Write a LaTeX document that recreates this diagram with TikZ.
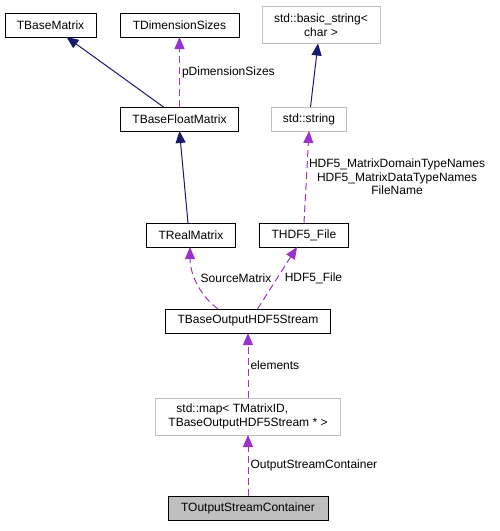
\documentclass[tikz,border=0pt]{standalone}
\usepackage{fontspec}
\setmainfont{Liberation Sans}
\usepackage{tikz}
\usetikzlibrary{arrows.meta,positioning,calc}
\definecolor{cNavy}{HTML}{191970}
\definecolor{cOrchid}{HTML}{9A32CD}
\definecolor{cGrey}{HTML}{BFBFBF}
\tikzset{
  >={Triangle[length=12pt,width=10pt]},
  cls/.style   ={draw=black,fill=white,line width=1pt,inner sep=0pt,outer sep=0pt,
                 minimum height=24pt,font=\fontsize{12}{13.5}\selectfont},
  ext/.style   ={cls,draw=cGrey},
  cur/.style   ={cls,fill=cGrey},
  inh/.style   ={->,cNavy,line width=1pt},
  usage/.style ={->,cOrchid,line width=1pt,dash pattern=on 7pt off 4pt},
  lbl/.style   ={font=\fontsize{12}{13.5}\selectfont,inner sep=2pt,text=black},
}
\begin{document}
\begin{tikzpicture}
\useasboundingbox (0,0) rectangle (500pt,-531pt);
\node[cls,minimum width=91pt] (bm) at (50.5pt,-25pt) {TBaseMatrix};
\node[cls,minimum width=119pt,right=24pt of bm] (dim) {TDimensionSizes};
\node[ext,minimum width=118pt,minimum height=37pt,align=center,right=23pt of dim] (bstr) {std::basic\_string<\\char >};
\node[cls,minimum width=118pt,below=70pt of dim] (bfm) {TBaseFloatMatrix};
\node[ext,minimum width=75pt,right=33pt of bfm] (str) {std::string};
\node[cls,minimum width=89pt,below=92pt of bfm,xshift=11.5pt] (rm) {TRealMatrix};
\node[cls,minimum width=89pt,right=24pt of rm] (hf) {THDF5\_File};
\coordinate (mid) at ($(rm.south)!.5!(hf.south)$);
\node[cls,minimum width=165pt,below=62pt of mid,xshift=0.5pt] (bos) {TBaseOutputHDF5Stream};
\node[ext,minimum width=185pt,minimum height=37pt,align=left,below=65pt of bos] (map) {\hspace*{8pt}std::map< TMatrixID,\\TBaseOutputHDF5Stream * >};
\node[cur,minimum width=160pt,below=61pt of map] (osc) {TOutputStreamContainer};
% inheritance
\draw[inh] ([xshift=-16pt]bfm.north) -- ([xshift=16pt]bm.south);
\draw[inh] ([xshift=1.5pt]str.north) -- ([xshift=-3pt]bstr.south);
\draw[inh] ([xshift=-3pt]rm.north) -- (bfm.south);
% usage
\draw[usage] (bfm.north) -- node[lbl,right]{pDimensionSizes} (dim.south);
\draw[usage] (hf.north) -- node[lbl,right,align=center]{HDF5\_MatrixDomainTypeNames\\HDF5\_MatrixDataTypeNames\\FileName} (str.south);
\draw[usage] ([xshift=-30pt]bos.north) .. controls +(-20pt,15pt) and +(0pt,-25pt) .. node[lbl,right,pos=.55,xshift=3pt]{SourceMatrix} ([xshift=-1pt]rm.south);
\draw[usage] ([xshift=9.5pt]bos.north) -- node[lbl,right,xshift=5pt]{HDF5\_File} ([xshift=-7pt]hf.south);
\draw[usage] (map.north) -- node[lbl,right]{elements} (bos.south);
\draw[usage] (osc.north) -- node[lbl,right]{OutputStreamContainer} (map.south);
\end{tikzpicture}
\end{document}
